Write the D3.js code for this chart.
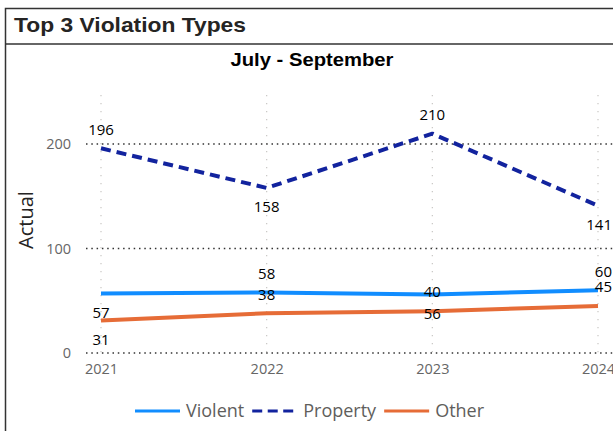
<!DOCTYPE html>
<html>
<head>
<meta charset="utf-8">
<script src="https://cdn.jsdelivr.net/npm/d3@7"></script>
<style>
  body { margin: 0; background: #fff; }
  svg { display: block; }
</style>
</head>
<body>
<div id="chart-area"></div>
<script>
// chart values
const years = ["2021", "2022", "2023", "2024"];
const violent = [57, 58, 56, 60];
const property = [196, 158, 210, 141];
const other = [31, 38, 40, 45];
const seriesNames = ["Violent", "Property", "Other"];
const yTicks = [0, 100, 200];
// which side of the line each data label sits on (-1 above, 1 below)
const labelSide = {
  Violent: [1, -1, 1, -1],
  Property: [-1, 1, -1, 1],
  Other: [1, -1, -1, -1]
};

const width = 613, height = 431;
const uiFont = "'Segoe UI', 'Open Sans', 'Noto Sans', sans-serif";

const svg = d3.select("#chart-area").append("svg")
  .attr("width", width)
  .attr("height", height);

// frame + title bar
svg.append("rect")
  .attr("x", 5.5).attr("y", 8.5)
  .attr("width", 640).attr("height", 440)
  .attr("fill", "none")
  .attr("stroke", "#333").attr("stroke-width", 1.5);

svg.append("line")
  .attr("x1", 5).attr("x2", width)
  .attr("y1", 44).attr("y2", 44)
  .attr("stroke", "#333").attr("stroke-width", 1.5);

svg.append("text")
  .attr("x", 14).attr("y", 32)
  .attr("font-family", "'Liberation Sans', Arial, sans-serif")
  .attr("font-weight", "bold")
  .attr("font-size", 21)
  .attr("textLength", 232)
  .attr("lengthAdjust", "spacingAndGlyphs")
  .attr("fill", "#252423")
  .text("Top 3 Violation Types");

svg.append("text")
  .attr("x", 312).attr("y", 66)
  .attr("text-anchor", "middle")
  .attr("font-family", "'Liberation Sans', Arial, sans-serif")
  .attr("font-weight", "bold")
  .attr("font-size", 19)
  .attr("textLength", 163)
  .attr("lengthAdjust", "spacingAndGlyphs")
  .attr("fill", "#000")
  .text("July - September");

// scales
const x = d3.scalePoint().domain(years).range([101, 598]);
const y = d3.scaleLinear().domain([0, 247]).range([353, 95]);

const color = d3.scaleOrdinal()
  .domain(seriesNames)
  .range(["#118DFF", "#12239E", "#E66C37"]);

const dashes = { Violent: null, Property: "10,6", Other: null };

const g = svg.append("g");

// vertical gridlines
g.selectAll(".vgrid")
  .data(years)
  .enter().append("line")
  .attr("class", "vgrid")
  .attr("x1", d => x(d)).attr("x2", d => x(d))
  .attr("y1", y.range()[1]).attr("y2", y.range()[0])
  .attr("stroke", "#c8c6c4")
  .attr("stroke-width", 1.2)
  .attr("stroke-dasharray", "1.2,6.8");

// horizontal gridlines
g.selectAll(".hgrid")
  .data(yTicks)
  .enter().append("line")
  .attr("class", "hgrid")
  .attr("x1", 86).attr("x2", width)
  .attr("y1", d => y(d)).attr("y2", d => y(d))
  .attr("stroke", "#333")
  .attr("stroke-width", 1.5)
  .attr("stroke-dasharray", "1.5,3.8");

// y axis
const yAxis = g.append("g")
  .attr("transform", "translate(86,0)")
  .call(d3.axisLeft(y).tickValues(yTicks).tickSize(0).tickPadding(15));
yAxis.select(".domain").remove();
yAxis.selectAll("text")
  .attr("font-family", uiFont)
  .attr("font-size", 14.5)
  .attr("fill", "#666");

// x axis
const xAxis = g.append("g")
  .attr("transform", "translate(0,353)")
  .call(d3.axisBottom(x).tickSize(0).tickPadding(11));
xAxis.select(".domain").remove();
xAxis.selectAll("text")
  .attr("font-family", uiFont)
  .attr("font-size", 14.5)
  .attr("fill", "#666");

// y axis title
svg.append("text")
  .attr("transform", "translate(33,220) rotate(-90)")
  .attr("text-anchor", "middle")
  .attr("font-family", uiFont)
  .attr("font-size", 20)
  .attr("fill", "#252423")
  .text("Actual");

// lines
const seriesData = {
  Violent: violent,
  Property: property,
  Other: other
};

const line = d3.line()
  .x((d, i) => x(years[i]))
  .y(d => y(d));

// draw order: Other, Violent, Property on top
["Other", "Violent", "Property"].forEach(name => {
  g.append("path")
    .datum(seriesData[name])
    .attr("d", line)
    .attr("fill", "none")
    .attr("stroke", color(name))
    .attr("stroke-width", 4)
    .attr("stroke-linejoin", "round")
    .attr("stroke-dasharray", dashes[name]);
});

// data labels
seriesNames.forEach(name => {
  g.selectAll(".lbl-" + name)
    .data(seriesData[name])
    .enter().append("text")
    .attr("class", "lbl-" + name)
    .attr("x", (d, i) => x(years[i]))
    .attr("y", (d, i) => y(d) + labelSide[name][i] * 19)
    .attr("dy", "0.35em")
    .attr("text-anchor", (d, i) => i === years.length - 1 ? "end" : "middle")
    .attr("dx", (d, i) => i === years.length - 1 ? 14 : 0)
    .attr("font-family", uiFont)
    .attr("font-size", 15)
    .attr("fill", "#000")
    .text(d => d);
});

// legend
const legend = svg.append("g")
  .attr("transform", "translate(135,411)");

let lx = 0;
seriesNames.forEach(name => {
  const row = legend.append("g").attr("transform", "translate(" + lx + ",0)");
  row.append("line")
    .attr("x1", 0).attr("x2", 45)
    .attr("y1", 0).attr("y2", 0)
    .attr("stroke", color(name))
    .attr("stroke-width", 3)
    .attr("stroke-dasharray", name === "Property" ? "10,5.5" : null);
  const t = row.append("text")
    .attr("x", 51).attr("y", 0)
    .attr("dy", "0.35em")
    .attr("font-family", uiFont)
    .attr("font-size", 18)
    .attr("fill", "#605E5C")
    .text(name);
  lx += 51 + t.node().getComputedTextLength() + 8;
});
</script>
</body>
</html>
